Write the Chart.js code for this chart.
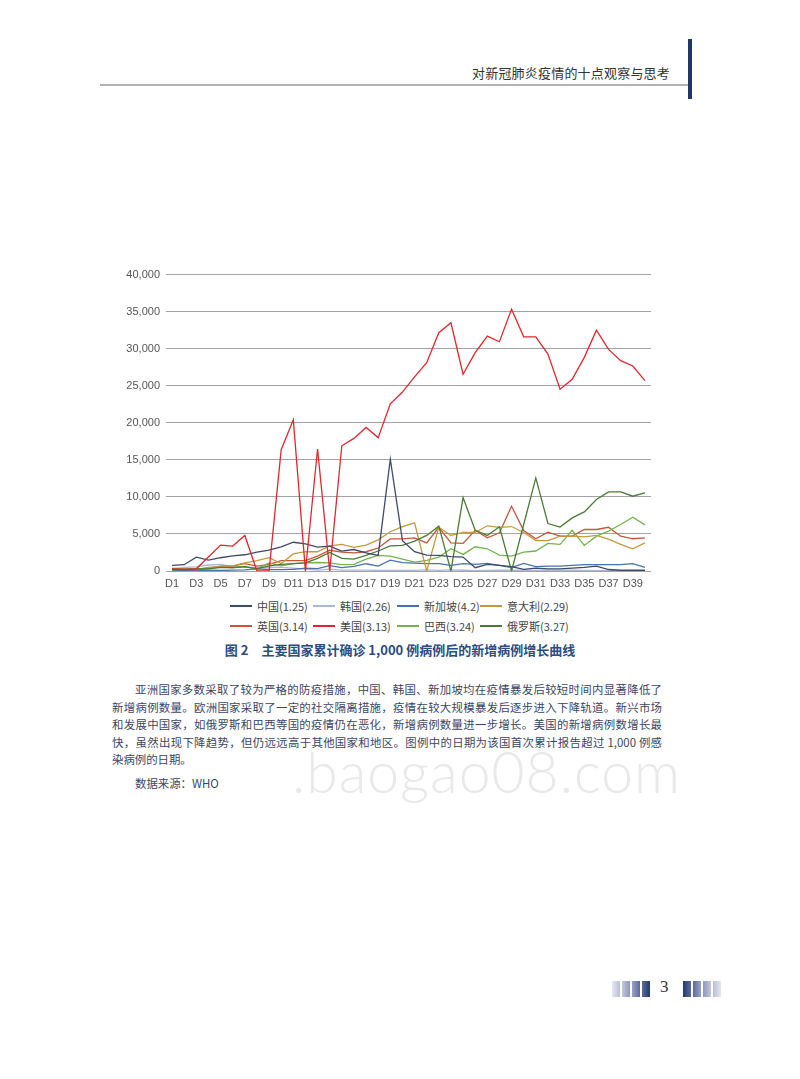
<!DOCTYPE html>
<html>
<head>
<meta charset="utf-8">
<script src="https://cdn.jsdelivr.net/npm/chart.js@4.4.1/dist/chart.umd.min.js"></script>
<style>
  html, body { margin: 0; padding: 0; background: #fff; }
  body { width: 800px; height: 1079px; position: relative; overflow: hidden; font-family: "Noto Sans CJK SC", sans-serif; }
  .abs { position: absolute; }
  #header { right: 130px; top: 63px; font-family: "Noto Sans CJK SC", serif; font-size: 13px; color: #333; letter-spacing: 0.2px; }
  #hline { left: 100px; top: 84px; width: 588px; height: 2px; background: #b3b3b3; }
  #vbar { left: 688px; top: 39px; width: 4px; height: 60px; background: #1f3866; }
  #chartBox { left: 110px; top: 262px; width: 545px; height: 330px; }
  #legend { left: 0; top: 598px; width: 800px; height: 40px; font-family: "Noto Sans CJK SC", sans-serif; font-size: 11px; color: #444; }
  .li { position: absolute; height: 16px; line-height: 16px; white-space: nowrap; }
  .li span.sw { position: absolute; left: 0; top: 7px; width: 22px; height: 2px; }
  .li span.tx { position: absolute; left: 27px; top: 0; }
  #caption { left: 0; width: 800px; top: 640px; text-align: center; font-size: 13px; font-weight: bold; color: #2c4c82; }
  .para { position: absolute; font-size: 11.4px; color: #3b4663; white-space: nowrap; text-align: justify; text-align-last: justify; height: 17px; line-height: 17px; }
  #wm { left: 292px; top: 737px; font-family: Lato, "Open Sans", sans-serif; font-weight: 300; font-size: 57px; color: #e9e9e9; letter-spacing: 1px; white-space: nowrap; }
  #pnum { left: 660px; top: 977px; font-family: "Liberation Serif", "DejaVu Serif", serif; font-size: 17px; color: #333; }
  .bar { position: absolute; top: 981px; width: 8px; height: 16px; }
</style>
</head>
<body>
<div id="header" class="abs">对新冠肺炎疫情的十点观察与思考</div>
<div id="hline" class="abs"></div>
<div id="vbar" class="abs"></div>

<div id="chartBox" class="abs"><canvas id="c" width="545" height="330"></canvas></div>
<div id="legend" class="abs"></div>
<div id="caption" class="abs">图 2　主要国家累计确诊 1,000 例病例后的新增病例增长曲线</div>

<div id="wm" class="abs">.baogao08.com</div>

<div class="para" style="left:135px; top:681px; width:527px;">亚洲国家多数采取了较为严格的防疫措施，中国、韩国、新加坡均在疫情暴发后较短时间内显著降低了</div>
<div class="para" style="left:112px; top:698.5px; width:550px;">新增病例数量。欧洲国家采取了一定的社交隔离措施，疫情在较大规模暴发后逐步进入下降轨道。新兴市场</div>
<div class="para" style="left:112px; top:716px; width:550px;">和发展中国家，如俄罗斯和巴西等国的疫情仍在恶化，新增病例数量进一步增长。美国的新增病例数增长最</div>
<div class="para" style="left:112px; top:733.5px; width:550px;">快，虽然出现下降趋势，但仍远远高于其他国家和地区。图例中的日期为该国首次累计报告超过 1,000 例感</div>
<div class="para" style="left:112px; top:751px; width:auto; text-align:left; text-align-last:left;">染病例的日期。</div>
<div class="para" style="left:135px; top:775px; width:auto; text-align:left; text-align-last:left;">数据来源：WHO</div>

<div id="pnum" class="abs">3</div>
<div class="bar" style="left:612px; background:linear-gradient(to right,#e4e6f0,#b9bed6);"></div>
<div class="bar" style="left:622px; background:linear-gradient(to right,#c3c8de,#8e97bd);"></div>
<div class="bar" style="left:632px; background:linear-gradient(to right,#9aa3c6,#5d6a9c);"></div>
<div class="bar" style="left:642px; background:linear-gradient(to right,#5c6b9e,#22396b);"></div>
<div class="bar" style="left:683px; background:linear-gradient(to right,#22396b,#5c6b9e);"></div>
<div class="bar" style="left:693px; background:linear-gradient(to right,#5d6a9c,#9aa3c6);"></div>
<div class="bar" style="left:703px; background:linear-gradient(to right,#8e97bd,#c3c8de);"></div>
<div class="bar" style="left:713px; background:linear-gradient(to right,#b9bed6,#e4e6f0);"></div>

<script>
const days = ["D1","D2","D3","D4","D5","D6","D7","D8","D9","D10","D11","D12","D13","D14","D15","D16","D17","D18","D19","D20",
              "D21","D22","D23","D24","D25","D26","D27","D28","D29","D30","D31","D32","D33","D34","D35","D36","D37","D38","D39","D40"];
const yTicks = [0, 5000, 10000, 15000, 20000, 25000, 30000, 35000, 40000];
const seriesNames = ["中国(1.25)","韩国(2.26)","新加坡(4.2)","意大利(2.29)","英国(3.14)","美国(3.13)","巴西(3.24)","俄罗斯(3.27)"];

const china     = [760, 850, 1870, 1470, 1790, 2050, 2190, 2540, 2810, 3260, 3880, 3660, 3210, 3350, 2680, 2900, 2450, 2100, 15090, 4100,
                   2600, 2150, 2100, 1930, 1880, 450, 900, 760, 580, 220, 400, 300, 300, 400, 500, 670, 200, 100, 100, 100];
const korea     = [280, 500, 570, 810, 900, 600, 520, 440, 520, 480, 370, 250, 130, 240, 110, 110, 110, 80, 70, 80,
                   90, 150, 90, 150, 100, 60, 80, 100, 100, 130, 80, 100, 80, 130, 90, 50, 50, 40, 30, 30];
const singapore = [50, 70, 80, 120, 70, 110, 140, 290, 200, 190, 230, 390, 330, 730, 450, 620, 980, 670, 1470, 1120,
                   1050, 1000, 1000, 760, 1000, 900, 1030, 760, 450, 1030, 580, 670, 670, 760, 850, 850, 850, 850, 1000, 500];
const italy     = [400, 300, 200, 500, 600, 700, 1100, 1400, 1800, 1000, 2300, 2600, 2600, 3400, 3600, 3200, 3500, 4200, 5300, 6000,
                   6500, 0, 5900, 4800, 5200, 5200, 6100, 5900, 6000, 5200, 4100, 4100, 4700, 4700, 4600, 4800, 4300, 3600, 3000, 3800];
const uk        = [330, 250, 150, 400, 650, 650, 1000, 650, 900, 1400, 1400, 1400, 2000, 2800, 2550, 2450, 2600, 3100, 4330, 4330,
                   4480, 3800, 5900, 3800, 3720, 5500, 4480, 5150, 8740, 5470, 4350, 5250, 4700, 4700, 5600, 5600, 5900, 4700, 4350, 4480];
const us        = [300, 200, 300, 1900, 3500, 3360, 4800, 0, 0, 16370, 20400, 0, 16460, 0, 16900, 17900, 19370, 18000, 22550, 24150,
                   26200, 28100, 32150, 33500, 26550, 29460, 31700, 30940, 35340, 31600, 31600, 29280, 24530, 25870, 28830, 32500, 29900, 28390, 27670, 25700];
const brazil    = [200, 250, 300, 400, 500, 500, 600, 300, 1100, 700, 1000, 1100, 1150, 1100, 850, 900, 1600, 2100, 2000, 1600,
                   1200, 1430, 1880, 3000, 2240, 3270, 3000, 2150, 2000, 2550, 2700, 3720, 3590, 5500, 3450, 4700, 5380, 6280, 7260, 6230];
const russia    = [200, 230, 270, 300, 500, 440, 600, 300, 700, 900, 1000, 1100, 1700, 2500, 1700, 1600, 2100, 2700, 3400, 3450,
                   4040, 4800, 6050, 0, 9910, 5500, 4800, 5960, 0, 6280, 12560, 6410, 5920, 7170, 7980, 9640, 10670, 10670, 10090, 10540];

const seriesData = [china, korea, singapore, italy, uk, us, brazil, russia];
const colors = ["#3e4a6a", "#a9b8d6", "#4a72ad", "#c39a3e", "#c8563a", "#e1272c", "#74b54b", "#4a7a35"];

const datasets = seriesNames.map((n, i) => ({
  label: n,
  data: seriesData[i],
  borderColor: colors[i],
  backgroundColor: colors[i],
  borderWidth: 1.3,
  pointRadius: 0,
  tension: 0,
  fill: false
}));
const order = [1, 2, 4, 6, 3, 7, 0, 5];
datasets.forEach((d, i) => { d.order = 10 - order.indexOf(i); });

new Chart(document.getElementById('c'), {
  type: 'line',
  data: { labels: days, datasets },
  options: {
    responsive: false,
    animation: false,
    devicePixelRatio: 1,
    layout: { padding: { top: 11, right: 4, left: 0, bottom: 0 } },
    plugins: { legend: { display: false }, tooltip: { enabled: false } },
    scales: {
      x: {
        type: 'category',
        offset: true,
        grid: { display: false },
        border: { display: false },
        ticks: {
          autoSkip: false, maxRotation: 0, minRotation: 0,
          color: '#555', font: { family: 'Liberation Sans', size: 11 }, padding: -2,
          callback: (v, i) => (i % 2 === 0 ? days[i] : '')
        },
        afterFit: s => { s.height = 21; }
      },
      y: {
        min: yTicks[0], max: yTicks[yTicks.length - 1],
        afterBuildTicks: s => { s.ticks = yTicks.map(v => ({ value: v })); },
        grid: { color: '#a3a3a3', lineWidth: 1, drawTicks: false },
        border: { display: false },
        ticks: {
          color: '#555', font: { family: 'Liberation Sans', size: 11 }, padding: 6,
          callback: v => v.toLocaleString('en-US')
        },
        afterFit: s => { s.width = 56; }
      }
    }
  }
});

const legendPos = [[230, 0], [313, 0], [397, 0], [480, 0], [230, 20], [313, 20], [397, 20], [480, 20]];
const lg = document.getElementById('legend');
seriesNames.forEach((n, i) => {
  const el = document.createElement('div');
  el.className = 'li';
  el.style.left = legendPos[i][0] + 'px';
  el.style.top = legendPos[i][1] + 'px';
  el.innerHTML = '<span class="sw" style="background:' + colors[i] + '"></span><span class="tx">' + n + '</span>';
  lg.appendChild(el);
});
</script>
</body>
</html>
